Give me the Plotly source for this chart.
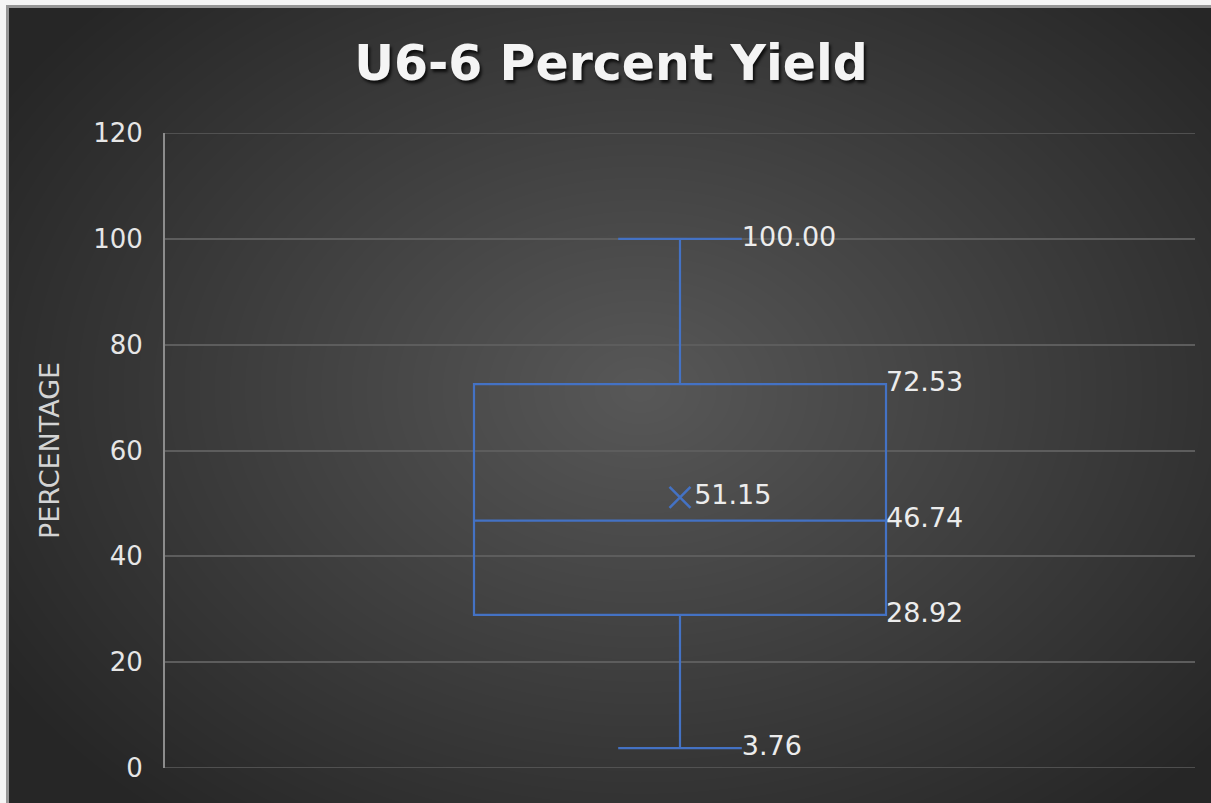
import base64, struct, zlib
import numpy as np
import plotly.graph_objects as go

# ---- data ----
category = ["U6-6"]
q1_vals = [28.92]
median_vals = [46.74]
q3_vals = [72.53]
min_vals = [3.76]
max_vals = [100.00]
mean_vals = [51.15]
y_ticks = [0, 20, 40, 60, 80, 100, 120]

W, H = 1211, 803
L, R, T, B = 165, 16, 133, 35
PW, PH = W - L - R, H - T - B

# ---- background image (radial gradient + frame) ----
def make_png(arr):
    h, w = arr.shape
    raw = b"".join(b"\x00" + arr[i].tobytes() for i in range(h))
    def chunk(tag, data):
        c = struct.pack(">I", len(data)) + tag + data
        return c + struct.pack(">I", zlib.crc32(tag + data) & 0xffffffff)
    png = b"\x89PNG\r\n\x1a\n"
    png += chunk(b"IHDR", struct.pack(">IIBBBBB", w, h, 8, 0, 0, 0, 0))
    png += chunk(b"IDAT", zlib.compress(raw, 9))
    png += chunk(b"IEND", b"")
    return png

yy, xx = np.mgrid[0:H, 0:W].astype(float)
cx, cy, rx, ry = 640.0, 390.0, 760.0, 560.0
d = np.sqrt(((xx - cx) / rx) ** 2 + ((yy - cy) / ry) ** 2)
bg = 88 - 50 * np.clip(d, 0, 1)
bg[:, :9] = 150
bg[:8, :] = 150
bg[:, :6] = 245
bg[:5, :] = 245
img = np.clip(bg, 0, 255).astype(np.uint8)
uri = "data:image/png;base64," + base64.b64encode(make_png(img)).decode()

blue = "#4472C4"
grid = "#5d5d5d"
label_font = dict(family="DejaVu Sans", size=27, color="#ececec")

fig = go.Figure()
fig.add_trace(go.Box(
    x=[0], q1=q1_vals, median=median_vals, q3=q3_vals,
    lowerfence=min_vals, upperfence=max_vals,
    name=category[0], width=0.4, whiskerwidth=0.3,
    line=dict(color=blue, width=2.2), fillcolor="rgba(0,0,0,0)",
    boxpoints=False, hoverinfo="skip", showlegend=False,
))
# mean marker with label
fig.add_trace(go.Scatter(
    x=[0], y=mean_vals, mode="markers+text",
    marker=dict(symbol="x-thin", size=21, line=dict(color=blue, width=2.5)),
    text=[f"{v:.2f}" for v in mean_vals], textposition="middle right",
    textfont=label_font, showlegend=False, hoverinfo="skip",
))
# whisker-end labels
fig.add_trace(go.Scatter(
    x=[0.06, 0.06], y=[max_vals[0], min_vals[0]], mode="text",
    text=[f"{v:.2f}" for v in (max_vals[0], min_vals[0])],
    textposition="middle right", textfont=label_font,
    showlegend=False, hoverinfo="skip",
))
# box-edge labels
fig.add_trace(go.Scatter(
    x=[0.2, 0.2, 0.2], y=[q3_vals[0], median_vals[0], q1_vals[0]], mode="text",
    text=[f"{v:.2f}" for v in (q3_vals[0], median_vals[0], q1_vals[0])],
    textposition="middle right", textfont=label_font,
    showlegend=False, hoverinfo="skip",
))

# gridlines at the range edges (Excel draws them at every tick)
for yv in (y_ticks[0], y_ticks[-1]):
    fig.add_shape(type="line", xref="x domain", yref="y", x0=0, x1=1, y0=yv, y1=yv,
                  line=dict(color=grid, width=1.5), layer="below")

fig.update_layout(
    width=W, height=H,
    margin=dict(l=L, r=R, t=T, b=B),
    paper_bgcolor="#2a2a2a", plot_bgcolor="rgba(0,0,0,0)",
    title=dict(
        text="U6-6 Percent Yield", x=(611) / W, xanchor="center",
        y=1 - 63 / H, yanchor="middle",
        font=dict(family="DejaVu Sans", size=49, color="#f4f4f4", weight="bold",
                  shadow="2px 3px 3px rgba(0,0,0,0.75)"),
    ),
    images=[dict(
        source=uri, xref="paper", yref="paper",
        x=-L / PW, y=1 + T / PH, sizex=W / PW, sizey=H / PH,
        xanchor="left", yanchor="top", sizing="stretch", layer="below",
    )],
    xaxis=dict(range=[-0.5, 0.5], showticklabels=False, showgrid=False,
               zeroline=False, showline=False, fixedrange=True),
    yaxis=dict(
        range=[0, 120], tickvals=y_ticks, ticktext=[str(v) for v in y_ticks],
        showgrid=True, gridcolor=grid, gridwidth=1.5,
        zeroline=False, showline=True, linecolor="#8c8c8c", linewidth=2,
        ticks="", ticklabelstandoff=15,
        tickfont=dict(family="DejaVu Sans", size=26, color="#e6e6e6"),
        title=dict(text="PERCENTAGE", standoff=26,
                   font=dict(family="DejaVu Sans", size=27, color="#d4d4d4")),
        fixedrange=True,
    ),
    hovermode=False,
)

fig.write_html("out.html")
